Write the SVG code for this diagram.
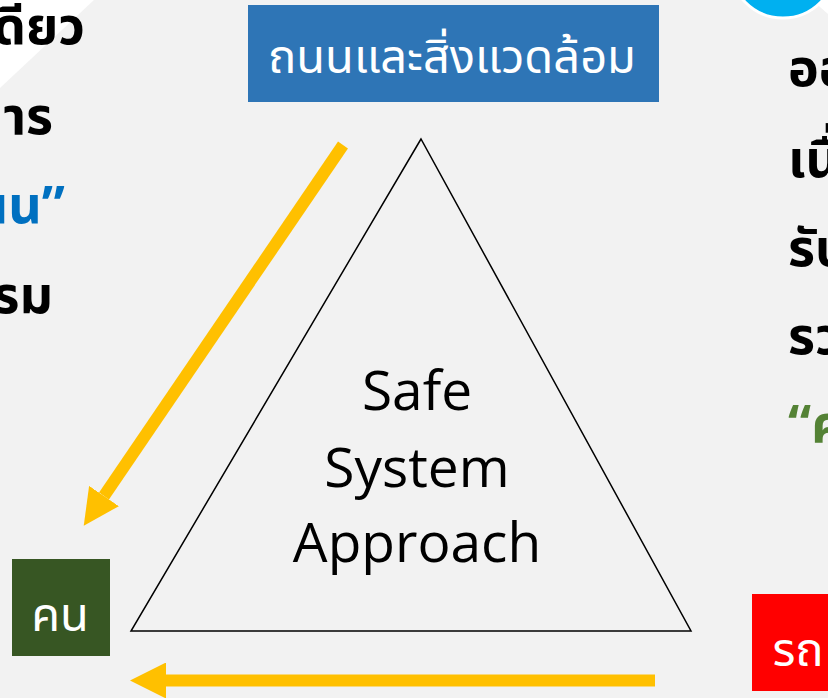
<svg xmlns="http://www.w3.org/2000/svg" width="828" height="698" viewBox="0 0 828 698">
  <defs>
    <style>
      .th { font-family: "Noto Sans Thai", "Noto Sans", "DejaVu Sans", sans-serif; }
      .side { font-size: 52px; font-weight: bold; fill: #000000; }
      .label { font-size: 47px; fill: #ffffff; text-anchor: middle; }
      .core { font-family: "Open Sans", "Noto Sans", sans-serif; font-size: 55px; fill: #000000; text-anchor: middle; }
      .flow { fill: none; stroke: #ffc000; stroke-width: 12; }
    </style>
    <marker id="head" markerUnits="userSpaceOnUse" markerWidth="36" markerHeight="36" refX="0" refY="18" orient="auto" viewBox="0 0 36 36">
      <path d="M0,0 L36,18 L0,36 Z" fill="#ffc000"/>
    </marker>
  </defs>

  <!-- backdrop -->
  <rect x="0" y="0" width="828" height="698" fill="#f2f2f2"/>
  <polygon points="0,0 94,0 0,88" fill="#ffffff"/>
  <polygon points="812,0 828,0 828,14" fill="#ffffff"/>
  <circle cx="783" cy="-35" r="53" fill="#00b0f0" stroke="#ffffff" stroke-width="3"/>

  <!-- side text, left column -->
  <g id="left-text" class="th side" text-anchor="end">
    <text x="85" y="44">เดียว</text>
    <text x="53" y="134">การ</text>
    <text x="65" y="223" fill="#0070c0">ถนน”</text>
    <text x="53" y="313">กรรม</text>
  </g>

  <!-- side text, right column -->
  <g id="right-text" class="th side">
    <text x="788" y="86">ออก</text>
    <text x="788" y="177">เนื่อง</text>
    <text x="788" y="266">รับ</text>
    <text x="788" y="354">รวม</text>
    <text x="788" y="442" fill="#548235">“คน</text>
  </g>

  <!-- triangle -->
  <g id="safe-system">
    <polygon points="421,139 131,631 691,631" fill="none" stroke="#000000" stroke-width="1.5" stroke-linejoin="miter"/>
    <text class="core" x="417" y="410">Safe</text>
    <text class="core" x="417" y="487">System</text>
    <text class="core" x="417" y="562">Approach</text>
  </g>

  <!-- nodes -->
  <g id="node-road">
    <rect x="248" y="5" width="411" height="97" fill="#2e75b6"/>
    <text class="th label" x="452" y="73">ถนนและสิ่งแวดล้อม</text>
  </g>
  <g id="node-people">
    <rect x="12" y="559" width="98" height="97" fill="#375623"/>
    <text class="th label" x="60" y="631">คน</text>
  </g>
  <g id="node-vehicle">
    <rect x="752" y="594" width="98" height="97" fill="#ff0000"/>
    <text class="th label" x="798" y="666">รถ</text>
  </g>

  <!-- connectors -->
  <g id="connectors">
    <path class="flow" d="M343,145 L104,496" marker-end="url(#head)"/>
    <path class="flow" d="M655,680.5 L166,680.5" marker-end="url(#head)"/>
  </g>
</svg>
